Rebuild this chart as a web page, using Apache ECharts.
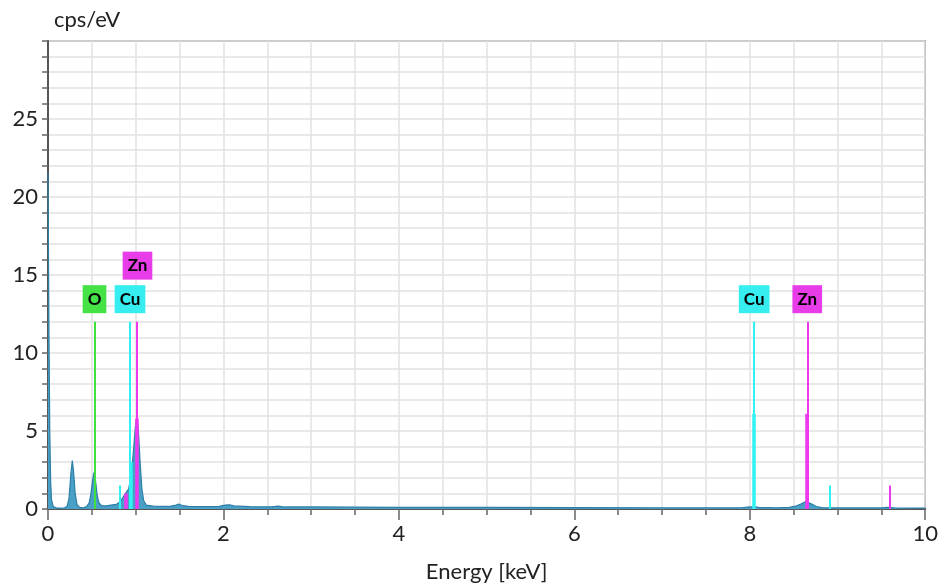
<!DOCTYPE html>
<html><head><meta charset="utf-8">
<script src="https://cdn.jsdelivr.net/npm/echarts@6/dist/echarts.min.js"></script>
<style>html,body{margin:0;padding:0;background:#fff}#c{width:941px;height:588px}</style>
</head><body><div id="c"></div>
<script>
// Spectrum (energy keV, counts cps/eV)
const specEnergy = [0.00,0.01,0.02,0.03,0.04,0.06,0.10,0.15,0.19,0.22,0.24,0.26,0.277,0.29,0.31,0.33,0.36,0.40,0.44,0.47,0.49,0.51,0.525,0.54,0.56,0.58,0.61,0.66,0.72,0.78,0.82,0.86,0.89,0.92,0.95,0.975,0.995,1.012,1.03,1.05,1.07,1.09,1.12,1.2,1.3,1.4,1.46,1.49,1.53,1.6,1.8,1.95,2.02,2.07,2.12,2.3,2.55,2.62,2.7,3.0,3.5,4.0,5.0,6.0,7.0,7.9,8.0,8.05,8.1,8.3,8.45,8.52,8.58,8.64,8.7,8.76,8.82,9.0,9.5,9.57,9.65,10.0];
const specCps    = [21.5,12,5,1.8,0.6,0.15,0.06,0.05,0.08,0.2,0.7,2.2,3.1,2.5,1.0,0.3,0.1,0.08,0.15,0.4,1.0,1.9,2.35,1.9,0.9,0.4,0.22,0.2,0.25,0.3,0.45,0.8,1.05,1.3,2.2,3.8,5.2,5.9,5.1,3.0,1.3,0.55,0.25,0.18,0.17,0.18,0.25,0.32,0.22,0.17,0.16,0.17,0.25,0.27,0.2,0.15,0.14,0.18,0.13,0.13,0.12,0.11,0.1,0.09,0.08,0.08,0.13,0.16,0.1,0.08,0.1,0.18,0.32,0.48,0.33,0.16,0.09,0.07,0.07,0.11,0.07,0.06];

// Element marker lines
const lineElement = ['O','Cu','Cu','Cu','Zn','Zn','Zn','Cu','Cu','Cu','Zn','Zn','Zn'];
const lineEnergy  = [0.53,0.935,0.945,0.815,1.015,1.012,0.885,8.05,8.045,8.91,8.655,8.65,9.59];
const lineHeight  = [12,12,3.0,1.5,12,5.8,1.0,12,6.1,1.5,12,6.1,1.5];

// Element labels
const labelElement = ['O','Cu','Zn','Cu','Zn'];
const labelEnergy  = [0.53,0.935,1.02,8.05,8.655];
const labelLevel   = [13.45,13.45,15.6,13.45,13.45];

// Axis ticks
const xTicks = [0,2,4,6,8,10];
const yTicks = [0,5,10,15,20,25];

const elemColor = {O:'#3fe03f', Cu:'#30f2f2', Zn:'#ee38ee'};
const elemBg = {O:'#44e244', Cu:'#36eef0', Zn:'#e83ce8'};
const FONT = 'Lato';

const chart = echarts.init(document.getElementById('c'), null, {renderer:'canvas'});
const specData = specEnergy.map((e,i)=>[e,specCps[i]]);
const linesData = lineEnergy.map((e,i)=>{
  const h = lineHeight[i];
  const thick = h > 2.5 && h < 11 || h <= 1.2;
  return {coords:[[e,0],[e,h]], lineStyle:{color:elemColor[lineElement[i]], width: thick?3.5:2, opacity:1}};
});
const labelData = labelEnergy.map((e,i)=>({
  value:[e,labelLevel[i]],
  itemStyle:{opacity:1},
  label:{show:true, position:'inside', formatter:labelElement[i], backgroundColor:elemBg[labelElement[i]],
    color:'#000', fontWeight:'bold', fontSize:17, fontFamily:FONT, padding:[6,5,5,5], lineHeight:17}
}));

chart.setOption({
  animation:false,
  backgroundColor:'#fff',
  grid:{left:48, right:10, top:41, bottom:79, show:true, borderColor:'#6a6a6a', borderWidth:1.5, backgroundColor:'transparent'},
  xAxis:{
    type:'value', min:0, max:10, interval:2,
    name:'Energy [keV]', nameLocation:'middle', nameGap:52,
    nameTextStyle:{fontFamily:FONT, fontSize:22, color:'#222'},
    axisLine:{show:true, onZero:false, lineStyle:{color:'#555', width:2}},
    axisTick:{show:true, length:11, lineStyle:{color:'#666', width:1.5}},
    minorTick:{show:true, splitNumber:4, length:6, lineStyle:{color:'#666', width:1.5}},
    splitLine:{show:true, lineStyle:{color:'#e2e2e2', width:1.5}},
    minorSplitLine:{show:true, lineStyle:{color:'#e2e2e2', width:1.5}},
    axisLabel:{fontFamily:FONT, fontSize:22, color:'#222', margin:14, formatter:v=>xTicks.includes(v)?String(v):''}
  },
  yAxis:{
    type:'value', min:0, max:30, interval:5,
    name:'cps/eV', nameLocation:'end', nameGap:10,
    nameTextStyle:{fontFamily:FONT, fontSize:22, color:'#222', align:'left', padding:[0,0,0,6]},
    axisLine:{show:true, lineStyle:{color:'#555', width:2}},
    axisTick:{show:true, length:6, lineStyle:{color:'#666', width:1.5}},
    minorTick:{show:true, splitNumber:5, length:6, lineStyle:{color:'#666', width:1.5}},
    splitLine:{show:true, lineStyle:{color:'#e2e2e2', width:1.5}},
    minorSplitLine:{show:true, lineStyle:{color:'#e2e2e2', width:1.5}},
    axisLabel:{fontFamily:FONT, fontSize:22, color:'#222', margin:10, formatter:v=>yTicks.includes(v)?String(v):''}
  },
  series:[
    {type:'line', data:specData, symbol:'none', smooth:false, z:2,
     lineStyle:{color:'#2c7fa6', width:1.2}, areaStyle:{color:'#4a9fc6', opacity:1}},
    {type:'lines', coordinateSystem:'cartesian2d', data:linesData, z:3, silent:true},
    {type:'scatter', data:labelData, symbolSize:0, z:4, silent:true, itemStyle:{opacity:1}}
  ]
});
</script></body></html>
